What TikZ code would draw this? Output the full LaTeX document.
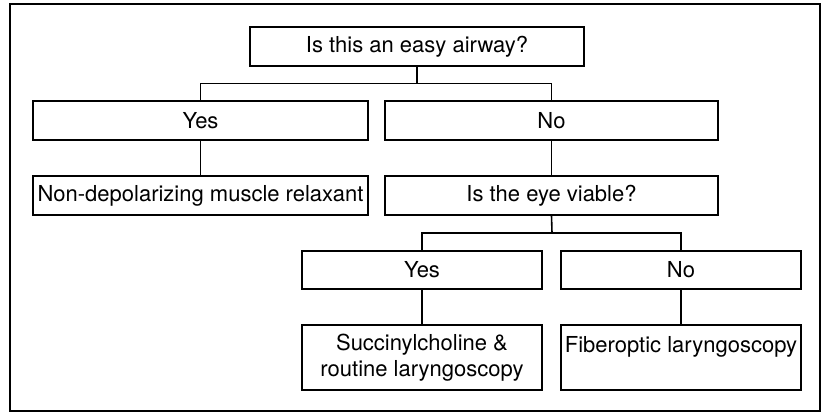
\documentclass[tikz,border=0pt]{standalone}
\usepackage{fontspec}
\setmainfont{TeX Gyre Heros}
\begin{document}
\begin{tikzpicture}[x=0.5pt,y=-0.5pt]
      \useasboundingbox (0,0) rectangle (822,412);
      \draw[line width=0.9pt] (10,4) rectangle (820,411);

      \begin{scope}[every node/.style={draw,line width=0.8pt,inner sep=0pt,
          align=center,minimum height=19.5pt,
          font=\fontsize{11}{13}\selectfont}]
        \node[minimum width=167pt] (q1) at (417,46.5) {Is this an easy airway?};
        \node[minimum width=167.5pt] (yes1) at (200.5,120.5) {Yes};
        \node[minimum width=166.5pt] (no1) at (551.5,120.5) {No};
        \node[minimum width=167.5pt] (nondep) at (200.5,195.5) {Non-depolarizing muscle relaxant};
        \node[minimum width=166.5pt] (eye) at (551.5,195.5) {Is the eye viable?};
        \node[minimum width=120pt,minimum height=19pt] (yes2) at (422,270) {Yes};
        \node[minimum width=120pt,minimum height=19pt] (no2) at (681,270) {No};
        \node[minimum width=120pt,minimum height=32.5pt] (succ) at (422,357.5) {Succinylcholine \&\\routine laryngoscopy};
        \node[minimum width=120pt,minimum height=32.5pt] (fiber) at (681,357.5) {Fiberoptic laryngoscopy\\\mbox{}};
      \end{scope}

      \begin{scope}[every path/.style={line width=0.8pt}]
        \coordinate (s1) at (417,83.5);
        \coordinate (s2) at (552,233);
        \draw (q1.south) -- (s1);
        \draw (yes1.north) |- (s1) -| (no1.north);
        \draw (yes1) -- (nondep);
        \draw (no1) -- (eye);
        \draw (eye.south) -- (s2);
        \draw (yes2.north) |- (s2) -| (no2.north);
        \draw (yes2) -- (succ);
        \draw (no2) -- (fiber);
      \end{scope}
    \end{tikzpicture}
\end{document}
